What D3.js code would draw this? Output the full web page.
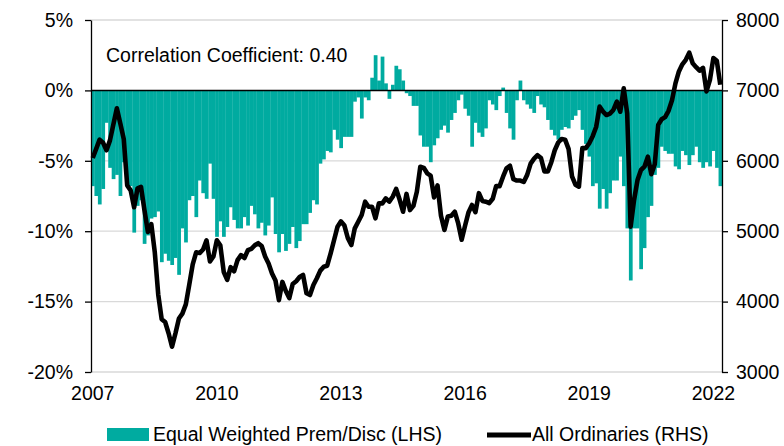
<!DOCTYPE html>
<html>
<head>
<meta charset="utf-8">
<style>
  body { margin: 0; background: #fff; }
  svg text { font-family: "Liberation Sans", Arial, sans-serif; fill: #000; }
  .axis .domain { stroke: #000; stroke-width: 1.3; }
  .axis line { stroke: #000; stroke-width: 1.3; }
</style>
</head>
<body>
<svg width="784" height="446"></svg>
<script src="https://d3js.org/d3.v7.min.js"></script>
<script>
// monthly, Mar 2007 .. May 2022
var months = d3.timeMonth.range(new Date(2007, 2, 1), new Date(2022, 5, 1));

// Equal weighted premium / discount (%), left axis
var premDisc = [
  -6.8, -7.5, -8.1, -7.0, -2.3, -5.5, -6.3, -6.0, -7.5, -5.1, -6.5, -6.8,
  -10.1, -8.2, -7.8, -10.9, -10.3, -9.1, -9.0, -8.6, -12.2, -11.6, -12.1, -12.4,
  -11.9, -13.1, -9.8, -10.8, -7.8, -7.5, -9.0, -6.4, -7.3, -7.7, -5.2, -7.7,
  -10.4, -9.3, -10.4, -9.7, -8.3, -9.2, -9.8, -9.8, -9.0, -9.6, -8.2, -8.8,
  -9.8, -9.4, -10.3, -9.6, -7.6, -10.2, -11.5, -10.2, -11.4, -10.9, -9.7, -11.2,
  -10.7, -9.5, -9.5, -8.7, -7.8, -8.1, -5.2, -4.9, -4.3, -4.4, -2.8, -3.5,
  -4.1, -3.3, -3.3, -3.3, -0.8, -0.5, -2.0, -0.5, -0.7, 0.9, 2.5, 0.7,
  2.4, 0.5, -0.6, 0.4, 1.75, 1.5, 0.7, -0.2, -0.4, -1.1, -1.1, -3.2,
  -4.0, -4.0, -5.1, -3.9, -3.4, -2.8, -2.5, -3.0, -2.1, -1.6, -0.7, -0.3,
  -1.3, -1.8, -4.0, -2.3, -3.0, -3.3, -2.7, -0.7, -1.0, -1.4, -0.4, 0.2,
  -1.6, -2.7, -3.5, -0.7, 0.7, -0.7, -1.0, -1.3, -1.6, -0.4, -1.0, -1.2,
  -2.1, -2.8, -3.2, -3.5, -2.8, -2.6, -2.7, -2.1, -1.8, -1.4, -2.8, -3.8,
  -4.7, -6.8, -6.6, -8.4, -7.0, -8.4, -7.3, -6.4, -6.4, -4.7, -6.8, -9.8,
  -13.5, -9.8, -9.8, -12.7, -11.2, -9.0, -8.2, -6.0, -5.5, -4.0, -4.3, -4.5,
  -4.5, -5.4, -5.6, -4.3, -4.6, -5.3, -4.6, -4.0, -5.1, -5.5, -5.1, -5.4,
  -4.3, -5.5, -6.8
];

// All Ordinaries index, right axis
var allOrds = [
  6040, 6170, 6300, 6257, 6150, 6290, 6520, 6745, 6530, 6310, 5650, 5580,
  5340, 5610, 5630, 5300, 4990, 5100, 4700, 4100, 3750, 3710, 3550, 3360,
  3550, 3760, 3830, 3960, 4240, 4530, 4700, 4690, 4740, 4870, 4570, 4640,
  4870, 4800, 4420, 4310, 4490, 4430, 4590, 4660, 4620, 4730, 4750, 4800,
  4830, 4790, 4640, 4540, 4400, 4300, 4020, 4280, 4150, 4050, 4250, 4290,
  4350, 4380, 4118, 4094, 4236, 4331, 4440, 4496, 4510, 4686, 4875, 5064,
  5140, 5080, 4900, 4804, 5041, 5135, 5230, 5419, 5348, 5348, 5183, 5395,
  5395, 5466, 5420, 5490, 5600, 5450, 5277, 5530, 5300, 5360, 5561, 5916,
  5900, 5822, 5790, 5480, 5650, 5220, 5017, 5210, 5220, 5277, 5110, 4880,
  5080, 5270, 5372, 5270, 5540, 5430, 5420, 5400, 5460, 5640, 5640, 5774,
  5893, 5930, 5740, 5720, 5720, 5700, 5800, 5960, 6030, 6080, 6040, 5850,
  5850, 5980, 6150, 6260, 6310, 6300, 6170, 5780, 5660, 5632, 6180, 6180,
  6250, 6350, 6480, 6770, 6700, 6650, 6670, 6722, 6840, 6697, 7030, 6675,
  5064, 5443, 5727, 5869, 5916, 6058, 5810, 5950, 6510, 6590, 6620, 6710,
  6860, 7100, 7270, 7370, 7435, 7536, 7385, 7330, 7280, 7320, 6985, 7150,
  7460, 7420, 7080
];

var leftTicks = [5, 0, -5, -10, -15, -20];
var rightTicks = [8000, 7000, 6000, 5000, 4000, 3000];
var yearTicks = ["2007", "2010", "2013", "2016", "2019", "2022"];

var svg = d3.select("svg"),
  margin = { top: 20, right: 62, bottom: 74, left: 91 },
  width = +svg.attr("width") - margin.left - margin.right,
  height = +svg.attr("height") - margin.top - margin.bottom,
  g = svg.append("g").attr("transform", "translate(" + margin.left + "," + margin.top + ")");

var x = d3.scaleBand().domain(months).range([0, width]).padding(0);
var yL = d3.scaleLinear().domain([-20, 5]).range([height, 0]);
var yR = d3.scaleLinear().domain([3000, 8000]).range([height, 0]);

// gridlines
g.append("g")
  .selectAll("line")
  .data(leftTicks.filter(function(d) { return d != 0; }))
  .enter().append("line")
  .attr("x1", 0).attr("x2", width)
  .attr("y1", function(d) { return yL(d); })
  .attr("y2", function(d) { return yL(d); })
  .attr("stroke", "#d9d9d9")
  .attr("stroke-width", 1.3);

// bars
g.append("g")
  .attr("fill", "#00aba0")
  .selectAll("rect")
  .data(premDisc)
  .enter().append("rect")
  .attr("x", function(d, i) { return x(months[i]); })
  .attr("width", x.bandwidth() + 0.3)
  .attr("y", function(d) { return yL(Math.max(0, d)); })
  .attr("height", function(d) { return Math.abs(yL(d) - yL(0)); });

// zero line
g.append("line")
  .attr("x1", 0).attr("x2", width)
  .attr("y1", yL(0)).attr("y2", yL(0))
  .attr("stroke", "#000")
  .attr("stroke-width", 1.5);

// left axis
g.append("g")
  .attr("class", "axis")
  .call(d3.axisLeft(yL).tickValues(leftTicks).tickSize(6).tickSizeOuter(0).tickPadding(12)
    .tickFormat(function(d) { return d + "%"; }))
  .selectAll("text").attr("font-size", 19.5);

// right axis
g.append("g")
  .attr("class", "axis")
  .attr("transform", "translate(" + width + ",0)")
  .call(d3.axisRight(yR).tickValues(rightTicks).tickSize(6).tickSizeOuter(0).tickPadding(8)
    .tickFormat(d3.format("d")))
  .selectAll("text").attr("font-size", 19.5);

// bottom labels, every 36 months
var tickMonths = months.filter(function(d, i) { return i % 36 == 0; });
var xAxis = g.append("g")
  .attr("transform", "translate(0," + height + ")")
  .call(d3.axisBottom(x).tickValues(tickMonths).tickSize(0).tickPadding(14)
    .tickFormat(function(d, i) { return yearTicks[i]; }));
xAxis.select(".domain").remove();
xAxis.selectAll("text").attr("font-size", 19.5);

// All Ordinaries line
var line = d3.line()
  .x(function(d, i) { return x(months[i]) + x.bandwidth() / 2; })
  .y(function(d) { return yR(d); });
g.append("path")
  .datum(allOrds)
  .attr("fill", "none")
  .attr("stroke", "#000")
  .attr("stroke-width", 4.6)
  .attr("stroke-linejoin", "round")
  .attr("d", line);

// annotation
g.append("text")
  .attr("x", 15)
  .attr("y", 42)
  .attr("font-size", 19.5)
  .text("Correlation Coefficient: 0.40");

// legend
var legend = svg.append("g").attr("font-size", 19.5);
legend.append("rect")
  .attr("x", 107).attr("y", 428)
  .attr("width", 42).attr("height", 13)
  .attr("fill", "#00aba0");
legend.append("text").attr("x", 153).attr("y", 441).text("Equal Weighted Prem/Disc (LHS)");
legend.append("line")
  .attr("x1", 487).attr("x2", 531)
  .attr("y1", 435).attr("y2", 435)
  .attr("stroke", "#000").attr("stroke-width", 5);
legend.append("text").attr("x", 532).attr("y", 441).text("All Ordinaries (RHS)");
</script>
</body>
</html>
